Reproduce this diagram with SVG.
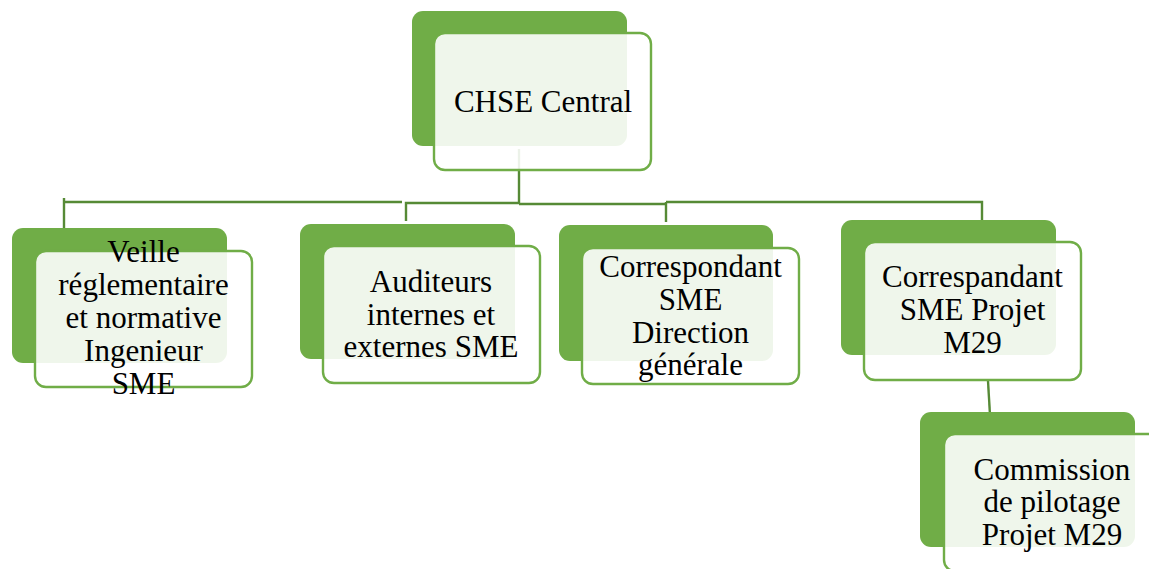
<svg xmlns="http://www.w3.org/2000/svg" width="1149" height="569" viewBox="0 0 1149 569">
  <style>
    .back { fill: #70ad47; }
    .front { fill: #ffffff; fill-opacity: 0.89; stroke: #70ad47; stroke-width: 2.4; }
    .label { font-family: 'Liberation Serif', 'DejaVu Serif', serif; font-size: 31px; fill: #000000; text-anchor: middle; }
    .conn { fill: none; stroke: #568a36; stroke-width: 2.4; }
  </style>
  <rect width="1149" height="569" fill="#ffffff"/>

  <!-- hierarchy connectors -->
  <g id="connectors">
    <path class="conn" d="M519,149 V204"/>
    <path class="conn" d="M64,198 V233 M64,202 H402"/>
    <path class="conn" d="M406,221 V203 H519"/>
    <path class="conn" d="M519,204 H666 M666,222 V202"/>
    <path class="conn" d="M666,202 H982 V220"/>
    <path class="conn" d="M988,381 L990,415"/>
  </g>

  <!-- root -->
  <g id="chse-central">
    <rect class="back" x="412" y="11" width="215" height="135" rx="11"/>
    <rect class="front" x="434" y="33" width="217" height="137" rx="11"/>
    <text class="label" x="543" y="112" font-family="Liberation Serif">CHSE Central</text>
  </g>

  <g id="veille">
    <rect class="back" x="12" y="228" width="215" height="135" rx="11"/>
    <rect class="front" x="35" y="251" width="217" height="136" rx="11"/>
    <text class="label" x="143.5" y="262">Veille</text>
    <text class="label" x="143.5" y="295">réglementaire</text>
    <text class="label" x="143.5" y="328">et normative</text>
    <text class="label" x="143.5" y="361">Ingenieur</text>
    <text class="label" x="143.5" y="394">SME</text>
  </g>

  <g id="auditeurs">
    <rect class="back" x="300" y="224" width="215" height="135" rx="11"/>
    <rect class="front" x="323" y="246" width="217" height="137" rx="11"/>
    <text class="label" x="431" y="292">Auditeurs</text>
    <text class="label" x="431" y="325">internes et</text>
    <text class="label" x="431" y="357">externes SME</text>
  </g>

  <g id="correspondant-dg">
    <rect class="back" x="559" y="225" width="214" height="136" rx="11"/>
    <rect class="front" x="582" y="248" width="217" height="136" rx="11"/>
    <text class="label" x="690.5" y="277">Correspondant</text>
    <text class="label" x="690.5" y="310">SME</text>
    <text class="label" x="690.5" y="343">Direction</text>
    <text class="label" x="690.5" y="375">générale</text>
  </g>

  <g id="correspandant-m29">
    <rect class="back" x="841" y="220" width="215" height="135" rx="11"/>
    <rect class="front" x="864" y="242" width="217" height="138" rx="11"/>
    <text class="label" x="972.5" y="287">Correspandant</text>
    <text class="label" x="972.5" y="320">SME Projet</text>
    <text class="label" x="972.5" y="353">M29</text>
  </g>

  <g id="commission-m29">
    <rect class="back" x="920" y="412" width="215" height="135" rx="11"/>
    <rect class="front" x="944" y="434" width="217" height="137" rx="11"/>
    <text class="label" x="1052" y="480">Commission</text>
    <text class="label" x="1052" y="512">de pilotage</text>
    <text class="label" x="1052" y="545">Projet M29</text>
  </g>
</svg>
